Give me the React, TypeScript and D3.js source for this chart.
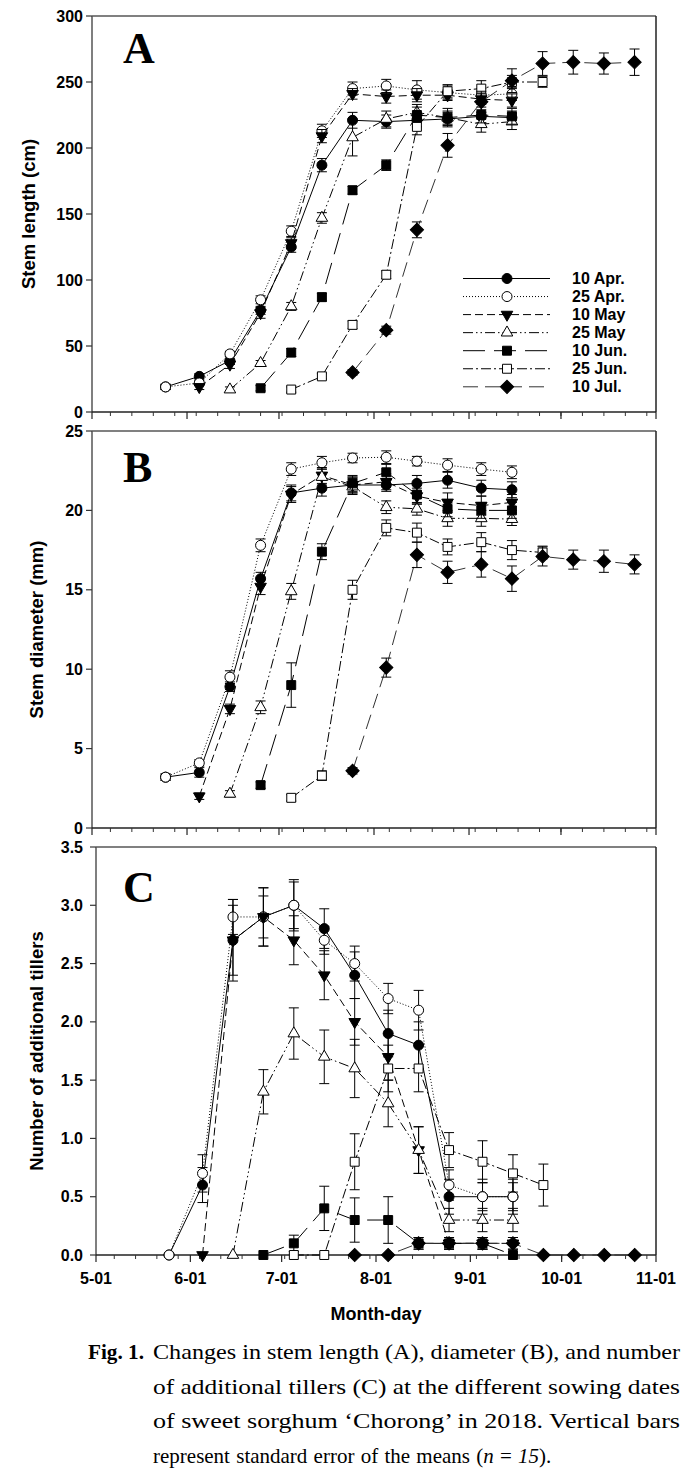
import React, { useEffect } from "react";
import * as d3 from "d3";

// ---------- DATA ----------
const MEAS_DATES = [
  "2018-05-25", "2018-06-05", "2018-06-15", "2018-06-25", "2018-07-05", "2018-07-15",
  "2018-07-25", "2018-08-05", "2018-08-15", "2018-08-25", "2018-09-05", "2018-09-15",
  "2018-09-25", "2018-10-05", "2018-10-15", "2018-10-25",
];
const SOWING_LABELS = ["10 Apr.", "25 Apr.", "10 May", "25 May", "10 Jun.", "25 Jun.", "10 Jul."];

// Stem length (cm)
const LEN_10APR = [19, 27, 39, 77, 125, 187, 221, 220, 221, 222, 224, 223];
const LEN_25APR = [19, 22, 44, 85, 137, 213, 245, 247, 244, 242, 240, 241];
const LEN_10MAY = [null, 19, 36, 75, 128, 209, 241, 239, 240, 240, 237, 236];
const LEN_25MAY = [null, null, 17, 37, 80, 147, 208, 222, 227, 223, 218, 220];
const LEN_10JUN = [null, null, null, 18, 45, 87, 168, 187, 225, 223, 225, 224];
const LEN_25JUN = [null, null, null, null, 17, 27, 66, 104, 216, 243, 245, 250, 250];
const LEN_10JUL = [null, null, null, null, null, null, 30, 62, 138, 202, 235, 251, 264, 265, 264, 265];
const LEN_SE_10APR = [2, 2, 3, 3, 4, 5, 6, 5, 5, 5, 5, 5];
const LEN_SE_25APR = [2, 2, 2, 3, 4, 5, 5, 5, 7, 5, 5, 5];
const LEN_SE_10MAY = [0, 2, 3, 4, 4, 5, 4, 5, 5, 4, 4, 5];
const LEN_SE_25MAY = [0, 0, 2, 2, 3, 4, 14, 6, 6, 5, 6, 6];
const LEN_SE_10JUN = [0, 0, 0, 2, 3, 3, 3, 4, 6, 7, 6, 6];
const LEN_SE_25JUN = [0, 0, 0, 0, 2, 2, 3, 3, 6, 5, 6, 5, 4];
const LEN_SE_10JUL = [0, 0, 0, 0, 0, 0, 2, 3, 6, 9, 8, 9, 9, 9, 8, 10];

// Stem diameter (mm)
const DIA_10APR = [3.2, 3.5, 8.9, 15.7, 21.1, 21.4, 21.6, 21.6, 21.7, 21.9, 21.4, 21.3];
const DIA_25APR = [3.2, 4.1, 9.5, 17.8, 22.6, 23.0, 23.3, 23.35, 23.1, 22.85, 22.6, 22.4];
const DIA_10MAY = [null, 2.0, 7.5, 15.2, 21.0, 22.2, 21.6, 21.8, 20.9, 20.5, 20.3, 20.5];
const DIA_25MAY = [null, null, 2.15, 7.6, 14.9, 22.1, 21.5, 20.2, 20.1, 19.5, 19.5, 19.45];
const DIA_10JUN = [null, null, null, 2.7, 9.0, 17.4, 21.7, 22.4, 21.0, 20.1, 20.0, 20.0];
const DIA_25JUN = [null, null, null, null, 1.9, 3.3, 15.0, 18.9, 18.6, 17.7, 18.0, 17.5, 17.35];
const DIA_10JUL = [null, null, null, null, null, null, 3.6, 10.1, 17.2, 16.1, 16.6, 15.7, 17.1, 16.9, 16.8, 16.6];
const DIA_SE_10APR = [0.2, 0.3, 0.3, 0.4, 0.5, 0.5, 0.5, 0.4, 0.5, 0.5, 0.5, 0.5];
const DIA_SE_25APR = [0.2, 0.2, 0.4, 0.4, 0.4, 0.4, 0.3, 0.4, 0.3, 0.4, 0.4, 0.4];
const DIA_SE_10MAY = [0, 0.2, 0.3, 0.5, 0.5, 0.5, 0.5, 0.5, 0.5, 0.6, 0.6, 0.5];
const DIA_SE_25MAY = [0, 0, 0.2, 0.4, 0.5, 0.5, 0.5, 0.4, 0.4, 0.5, 0.5, 0.4];
const DIA_SE_10JUN = [0, 0, 0, 0.2, 1.4, 0.5, 0.5, 0.5, 0.6, 0.5, 0.5, 0.5];
const DIA_SE_25JUN = [0, 0, 0, 0, 0.2, 0.3, 0.6, 0.5, 0.6, 0.5, 0.6, 0.6, 0.4];
const DIA_SE_10JUL = [0, 0, 0, 0, 0, 0, 0.2, 0.6, 0.8, 0.7, 0.8, 0.8, 0.6, 0.6, 0.7, 0.6];

// Number of additional tillers
const TIL_10APR = [0, 0.6, 2.7, 2.9, 3.0, 2.8, 2.4, 1.9, 1.8, 0.5, 0.5, 0.5];
const TIL_25APR = [0, 0.7, 2.9, 2.9, 3.0, 2.7, 2.5, 2.2, 2.1, 0.6, 0.5, 0.5];
const TIL_10MAY = [null, 0, 2.7, 2.9, 2.7, 2.4, 2.0, 1.7, 0.9, 0.1, 0.1, 0.1];
const TIL_25MAY = [null, null, 0, 1.4, 1.9, 1.7, 1.6, 1.3, 0.9, 0.3, 0.3, 0.3];
const TIL_10JUN = [null, null, null, 0, 0.1, 0.4, 0.3, 0.3, 0.1, 0.1, 0.1, 0.0];
const TIL_25JUN = [null, null, null, null, 0, 0, 0.8, 1.6, 1.6, 0.9, 0.8, 0.7, 0.6];
const TIL_10JUL = [null, null, null, null, null, null, 0, 0, 0.1, 0.1, 0.1, 0.1, 0, 0, 0, 0];
const TIL_SE_10APR = [0, 0.15, 0.35, 0.18, 0.2, 0.17, 0.2, 0.2, 0.2, 0.15, 0.15, 0.15];
const TIL_SE_25APR = [0, 0.16, 0.15, 0.25, 0.22, 0.12, 0.15, 0.13, 0.17, 0.13, 0.12, 0.12];
const TIL_SE_10MAY = [0, 0, 0.3, 0.25, 0.21, 0.21, 0.2, 0.2, 0.2, 0.05, 0.05, 0.05];
const TIL_SE_25MAY = [0, 0, 0, 0.19, 0.22, 0.23, 0.25, 0.2, 0.2, 0.1, 0.1, 0.1];
const TIL_SE_10JUN = [0, 0, 0, 0, 0.07, 0.19, 0.19, 0.2, 0.05, 0.05, 0.05, 0];
const TIL_SE_25JUN = [0, 0, 0, 0, 0, 0, 0.24, 0.2, 0.2, 0.15, 0.18, 0.16, 0.18];
const TIL_SE_10JUL = [0, 0, 0, 0, 0, 0, 0, 0, 0.05, 0.05, 0.05, 0.05, 0, 0, 0, 0];

const LEN_TICKS = [0, 50, 100, 150, 200, 250, 300];
const DIA_TICKS = [0, 5, 10, 15, 20, 25];
const TIL_TICKS = [0, 0.5, 1.0, 1.5, 2.0, 2.5, 3.0, 3.5];

const X_START = "2018-05-01";
const X_END = "2018-11-01";

const CAPTION_LINES = [
  "Changes in stem length (A), diameter (B), and number",
  "of additional tillers (C) at the different sowing dates",
  "of sweet sorghum ‘Chorong’ in 2018. Vertical bars",
];

// ---------- STYLES ----------
const SANS = "'Liberation Sans', Arial, Helvetica, sans-serif";
const SERIF = "'Liberation Serif', 'Times New Roman', serif";

const STYLES = [
  { dash: null, color: "#000", symbol: "circle", filled: true },
  { dash: "1,2", color: "#000", symbol: "circle", filled: false },
  { dash: "8,4", color: "#000", symbol: "triDown", filled: true },
  { dash: "10,3,1.5,3,1.5,3", color: "#000", symbol: "triUp", filled: false },
  { dash: "22,9", color: "#000", symbol: "square", filled: true },
  { dash: "10,3,2,3", color: "#000", symbol: "square", filled: false },
  { dash: "15,7", color: "#333", symbol: "diamond", filled: true },
];

const parse = d3.timeParse("%Y-%m-%d");
const DATES = MEAS_DATES.map((d) => parse(d) as Date);

function Marker({ x, y, symbol, filled }: any) {
  const fill = filled ? "#000" : "#fff";
  let path: string | null = null;
  let rot = 0;
  if (symbol === "circle") {
    return <circle cx={x} cy={y} r={5} fill={fill} stroke="#000" strokeWidth={1} />;
  }
  if (symbol === "triDown") {
    path = d3.symbol().type(d3.symbolTriangle).size(58)() as string;
    rot = 180;
  } else if (symbol === "triUp") {
    path = d3.symbol().type(d3.symbolTriangle).size(58)() as string;
  } else if (symbol === "square") {
    path = d3.symbol().type(d3.symbolSquare).size(80)() as string;
  } else {
    path = d3.symbol().type(d3.symbolSquare).size(88)() as string;
    rot = 45;
  }
  return (
    <path
      d={path}
      transform={`translate(${x},${y}) rotate(${rot})`}
      fill={fill}
      stroke="#000"
      strokeWidth={1}
    />
  );
}

function Panel({ cfg }: any) {
  const { left, right, top, bottom, yMax, ticks, fmt, series, errors, letter, letterY, title, titleX, showXLabels } = cfg;
  const x = d3.scaleTime().domain([parse(X_START) as Date, parse(X_END) as Date]).range([left, right]);
  const y = d3.scaleLinear().domain([0, yMax]).range([bottom, top]);
  const majors = d3.timeMonth.range(parse(X_START) as Date, d3.timeDay.offset(parse(X_END) as Date, 1));
  const minors = d3.timeMonday.range(parse(X_START) as Date, parse(X_END) as Date);
  const fmtDate = d3.timeFormat("%-m-%d");
  const line = d3
    .line<any>()
    .defined((d) => d.v !== null && d.v !== undefined)
    .x((d) => x(d.date))
    .y((d) => y(d.v));

  return (
    <g>
      <line x1={left} x2={right} y1={top} y2={top} stroke="#808080" strokeWidth={2} />
      <line x1={right} x2={right} y1={top} y2={bottom} stroke="#222" strokeWidth={1.5} />
      <line x1={left} x2={left} y1={top} y2={bottom} stroke="#555" strokeWidth={1.5} />
      <line x1={left} x2={right} y1={bottom} y2={bottom} stroke="#222" strokeWidth={1.5} />
      {ticks.map((t: number) => (
        <g key={"yt" + t}>
          <line x1={left - 6} x2={left} y1={y(t)} y2={y(t)} stroke="#333" strokeWidth={1.2} />
          <text
            x={83}
            y={y(t)}
            textAnchor="end"
            dominantBaseline="central"
            fontFamily={SANS}
            fontWeight="bold"
            fontSize={16}
          >
            {fmt(t)}
          </text>
        </g>
      ))}
      {minors.map((d: Date, i: number) => (
        <line key={"mn" + i} x1={x(d)} x2={x(d)} y1={bottom} y2={bottom + 4} stroke="#333" strokeWidth={1} />
      ))}
      {majors.map((d: Date, i: number) => (
        <g key={"mj" + i}>
          <line x1={x(d)} x2={x(d)} y1={bottom} y2={bottom + 7} stroke="#222" strokeWidth={1.2} />
          {showXLabels && (
            <text
              x={x(d)}
              y={bottom + 29}
              textAnchor="middle"
              fontFamily={SANS}
              fontWeight="bold"
              fontSize={16}
            >
              {fmtDate(d)}
            </text>
          )}
        </g>
      ))}
      {series.map((vals: any[], si: number) => {
        const st = STYLES[si];
        const pts = DATES.map((date, i) => ({ date, v: i < vals.length ? vals[i] : null, e: errors[si][i] || 0 }));
        const valid = pts.filter((p) => p.v !== null && p.v !== undefined);
        return (
          <g key={"s" + si}>
            <path
              d={line(pts) as string}
              fill="none"
              stroke={st.color}
              strokeWidth={1}
              strokeDasharray={st.dash || undefined}
            />
            {valid.map((p, i) =>
              p.e > 0 ? (
                <g key={"e" + i} stroke="#000" strokeWidth={1}>
                  <line x1={x(p.date)} x2={x(p.date)} y1={y(p.v - p.e)} y2={y(p.v + p.e)} />
                  <line x1={x(p.date) - 5} x2={x(p.date) + 5} y1={y(p.v - p.e)} y2={y(p.v - p.e)} />
                  <line x1={x(p.date) - 5} x2={x(p.date) + 5} y1={y(p.v + p.e)} y2={y(p.v + p.e)} />
                </g>
              ) : null
            )}
            {valid.map((p, i) => (
              <Marker key={"m" + i} x={x(p.date)} y={y(p.v)} symbol={st.symbol} filled={st.filled} />
            ))}
          </g>
        );
      })}
      <text x={123} y={letterY} fontFamily={SERIF} fontWeight="bold" fontSize={44}>
        {letter}
      </text>
      <text
        transform={`translate(${titleX},${(top + bottom) / 2}) rotate(-90)`}
        textAnchor="middle"
        dominantBaseline="central"
        fontFamily={SANS}
        fontWeight="bold"
        fontSize={18.5}
      >
        {title}
      </text>
    </g>
  );
}

function Legend() {
  const x0 = 463;
  const x1 = 550;
  const mx = 507;
  return (
    <g>
      {SOWING_LABELS.map((lab, i) => {
        const st = STYLES[i];
        const yy = 278.5 + i * 18.05;
        return (
          <g key={lab}>
            <line x1={x0} x2={x1} y1={yy} y2={yy} stroke={st.color} strokeWidth={1} strokeDasharray={st.dash || undefined} />
            <Marker x={mx} y={yy} symbol={st.symbol} filled={st.filled} />
            <text x={572} y={yy} dominantBaseline="central" fontFamily={SANS} fontWeight="bold" fontSize={16}>
              {lab}
            </text>
          </g>
        );
      })}
    </g>
  );
}

export default function App() {
  useEffect(() => {
    document.body.style.margin = "0";
  }, []);

  const fmtInt = (v: number) => d3.format("d")(v);
  const fmt1 = (v: number) => d3.format(".1f")(v);

  const panels = [
    {
      left: 92, right: 656, top: 16, bottom: 412, yMax: 300, ticks: LEN_TICKS, fmt: fmtInt,
      series: [LEN_10APR, LEN_25APR, LEN_10MAY, LEN_25MAY, LEN_10JUN, LEN_25JUN, LEN_10JUL],
      errors: [LEN_SE_10APR, LEN_SE_25APR, LEN_SE_10MAY, LEN_SE_25MAY, LEN_SE_10JUN, LEN_SE_25JUN, LEN_SE_10JUL],
      letter: "A", letterY: 63, title: "Stem length (cm)", titleX: 28, showXLabels: false,
    },
    {
      left: 92, right: 656, top: 431, bottom: 828, yMax: 25, ticks: DIA_TICKS, fmt: fmtInt,
      series: [DIA_10APR, DIA_25APR, DIA_10MAY, DIA_25MAY, DIA_10JUN, DIA_25JUN, DIA_10JUL],
      errors: [DIA_SE_10APR, DIA_SE_25APR, DIA_SE_10MAY, DIA_SE_25MAY, DIA_SE_10JUN, DIA_SE_25JUN, DIA_SE_10JUL],
      letter: "B", letterY: 482, title: "Stem diameter (mm)", titleX: 36, showXLabels: false,
    },
    {
      left: 96, right: 656, top: 847, bottom: 1255, yMax: 3.5, ticks: TIL_TICKS, fmt: fmt1,
      series: [TIL_10APR, TIL_25APR, TIL_10MAY, TIL_25MAY, TIL_10JUN, TIL_25JUN, TIL_10JUL],
      errors: [TIL_SE_10APR, TIL_SE_25APR, TIL_SE_10MAY, TIL_SE_25MAY, TIL_SE_10JUN, TIL_SE_25JUN, TIL_SE_10JUL],
      letter: "C", letterY: 902, title: "Number of additional tillers", titleX: 36, showXLabels: true,
    },
  ];

  const capY = [1359, 1394, 1428, 1463];

  return (
    <svg width={699} height={1476} style={{ display: "block", background: "#fff" }}>
      <rect x={0} y={0} width={699} height={1476} fill="#fff" />
      {panels.map((p, i) => (
        <Panel key={i} cfg={p} />
      ))}
      <Legend />
      <text x={376} y={1320} textAnchor="middle" fontFamily={SANS} fontWeight="bold" fontSize={18}>
        Month-day
      </text>
      <g fontFamily={SERIF} fontSize={22} fill="#000">
        <text x={88} y={capY[0]} fontWeight="bold" textLength={56} lengthAdjust="spacingAndGlyphs">Fig. 1.</text>
        {CAPTION_LINES.map((ln, i) => (
          <text key={i} x={153} y={capY[i]} textLength={527} lengthAdjust="spacingAndGlyphs">
            {ln}
          </text>
        ))}
        <text x={153} y={capY[3]} fontSize={21} wordSpacing={1}>
          represent standard error of the means (<tspan fontStyle="italic">n</tspan> = <tspan fontStyle="italic">15</tspan>).
        </text>
      </g>
    </svg>
  );
}
